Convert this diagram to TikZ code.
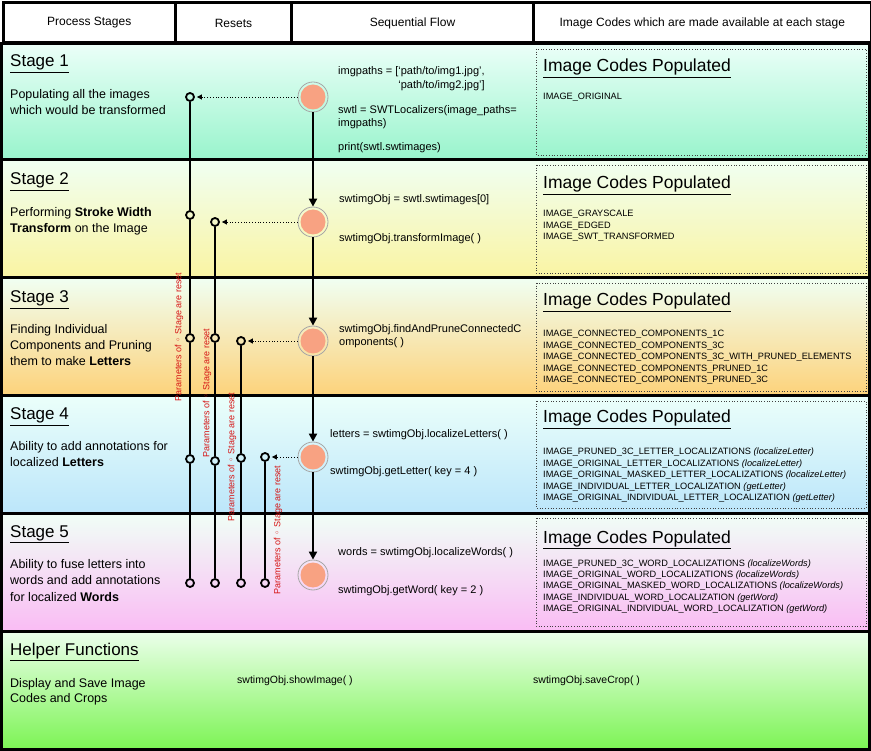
\documentclass[tikz,border=0pt]{standalone}
\usepackage{fontspec}
\setmainfont{Liberation Sans}
\newfontfamily\symfont{DejaVu Sans}
\usetikzlibrary{arrows.meta}
\definecolor{salmon}{RGB}{248,162,130}
\definecolor{resetred}{RGB}{214,20,20}
\definecolor{stAtop}{RGB}{235,255,248}
\definecolor{stAbot}{RGB}{152,244,204}
\definecolor{stBtop}{RGB}{240,255,242}
\definecolor{stBbot}{RGB}{250,244,162}
\definecolor{stCtop}{RGB}{240,255,242}
\definecolor{stCbot}{RGB}{253,210,122}
\definecolor{stDtop}{RGB}{235,255,250}
\definecolor{stDbot}{RGB}{188,230,250}
\definecolor{stEtop}{RGB}{240,255,246}
\definecolor{stEbot}{RGB}{250,188,244}
\definecolor{stFtop}{RGB}{236,255,236}
\definecolor{stFbot}{RGB}{124,244,84}
\newcommand{\fs}[2]{\fontsize{#1}{#2}\selectfont}

\begin{document}
\begin{tikzpicture}[x=1pt, y=-1pt, every node/.style={inner sep=0pt},
	headcell/.style={draw, line width=3pt, fill=white, minimum height=40pt, anchor=north west, font=\fs{12}{14}},
	band/.style={draw, line width=3pt},
	codebox/.style={draw=black!75, dotted, line width=0.7pt},
	stagehead/.style={anchor=base west, font=\fs{17}{20}},
	codeshead/.style={anchor=base west, font=\fs{17.5}{20}},
	desc/.style={anchor=base west, align=left, font=\fs{12.5}{15.5}},
	code/.style={anchor=base west, align=left, font=\fs{11}{13}},
	imgcodes/.style={anchor=base west, align=left, font=\fs{9.2}{11.4}},
	flowstep/.style={circle, draw=gray!70, line width=0.8pt, minimum size=30pt, path picture={\fill[salmon] (path picture bounding box.center) circle (12.5pt);}},
	jct/.style={circle, draw, line width=1.8pt, minimum size=8pt},
	flowarrow/.style={line width=2pt, -{Triangle[length=8pt,width=8pt]}},
	resetarrow/.style={dotted, line width=0.8pt, -{Triangle[length=5pt,width=5pt]}, shorten >=2pt},
	resetline/.style={line width=2pt},
	resetnote/.style={rotate=90, text=resetred, font=\fs{9}{11}}]
	\useasboundingbox (0,0) rectangle (871,751);
	\node[headcell, minimum width=172.5pt] (hStages) at (1.5,1.5) {Process Stages};
	\node[headcell, minimum width=116pt] (hResets) at (174,1.5) {Resets};
	\node[headcell, minimum width=242pt] (hFlow) at (290,1.5) {Sequential Flow};
	\node[headcell, minimum width=337.5pt] (hCodes) at (532,1.5) {Image Codes which are made available at each stage};
	\foreach \t/\b/\ct/\cb in {44/160/stAtop/stAbot, 160/278/stBtop/stBbot, 278/396/stCtop/stCbot, 396/513/stDtop/stDbot, 513/631/stEtop/stEbot, 631/749.5/stFtop/stFbot}
		\draw[band, top color=\ct, bottom color=\cb] (1.5,\t) rectangle (869.5,\b);
	\foreach \t/\b in {44/160, 160/278, 278/396, 396/513, 513/631}
		\draw[codebox] (536,{\t+5}) rectangle (866,{\b-5});

	\node[stagehead] (st1) at (10,67) {\underline{Stage 1}};
	\node[stagehead] (st2) at (10,185) {\underline{Stage 2}};
	\node[stagehead] (st3) at (10,303) {\underline{Stage 3}};
	\node[stagehead] (st4) at (10,420) {\underline{Stage 4}};
	\node[stagehead] (st5) at (10,537) {\underline{Stage 5}};
	\node[stagehead] (st6) at (10,655) {\underline{Helper Functions}};
	\node[desc] (d1) at (10,114.5) {Populating all the images\\which would be transformed};
	\node[desc, font=\fs{12.5}{16}] (d2) at (10,233) {Performing \textbf{Stroke Width}\\\textbf{Transform} on the Image};
	\node[desc, font=\fs{12.5}{16}] (d3) at (10,366) {Finding Individual\\Components and Pruning\\them to make \textbf{Letters}};
	\node[desc] (d4) at (10,466.5) {Ability to add annotations for\\localized \textbf{Letters}};
	\node[desc, font=\fs{12.5}{16.5}] (d5) at (10,601) {Ability to fuse letters into\\words and add annotations\\for localized \textbf{Words}};
	\node[desc] (d6) at (10,702.5) {Display and Save Image\\Codes and Crops};

	\foreach \i/\y in {1/97, 2/222, 3/341, 4/457, 5/575}
		\node[flowstep] (f\i) at (313,\y) {};
	\foreach \a/\b in {f1/f2, f2/f3, f3/f4, f4/f5}
		\draw[flowarrow] (\a) -- (\b);
	\foreach \n/\x/\y in {j11/190/97, j12/190/215, j13/190/338, j14/190/459, j15/190/583, j22/215/222, j23/215/338, j24/215/461, j25/215/583, j33/241/341, j34/241/458, j35/241/583, j44/265/457, j45/265/583}
		\node[jct] (\n) at (\x,\y) {};
	\foreach \a/\b in {j11/j12, j12/j13, j13/j14, j14/j15, j22/j23, j23/j24, j24/j25, j33/j34, j34/j35}
		\draw[resetline] (\a) -- (\b);
	\draw[resetline, line width=1.2pt] (j44) -- (j45);
	\foreach \a/\b in {f1/j11, f2/j22, f3/j33, f4/j44}
		\draw[resetarrow] (\a) -- (\b);
	\foreach \n/\x/\y in {p1/179/337, p2/207/393, p3/232/457, p4/278/530}
		\node[resetnote] (\n) at (\x,\y) {Parameters of {\symfont ◦} Stage are reset};

	\node[code, font=\fs{11}{14}] (c11) at (338,89) {imgpaths = [‘path/to/img1.jpg’,\\\phantom{imgpaths = [}‘path/to/img2.jpg’]};
	\node[code, font=\fs{11}{12.5}] (c12) at (338,126.5) {swtl = SWTLocalizers(image\_paths=\\imgpaths)};
	\node[code] (c13) at (338,151) {print(swtl.swtimages)};
	\node[code] (c21) at (339,203) {swtimgObj = swtl.swtimages[0]};
	\node[code] (c22) at (339,242) {swtimgObj.transformImage( )};
	\node[code, font=\fs{11}{12.5}] (c31) at (339,345.5) {swtimgObj.findAndPruneConnectedC\\omponents( )};
	\node[code] (c41) at (330,438) {letters = swtimgObj.localizeLetters( )};
	\node[code] (c42) at (330,475) {swtimgObj.getLetter( key = 4 )};
	\node[code] (c51) at (338,555) {words = swtimgObj.localizeWords( )};
	\node[code] (c52) at (338,593) {swtimgObj.getWord( key = 2 )};
	\node[code, font=\fs{10.5}{13}] (c61) at (237,683) {swtimgObj.showImage( )};
	\node[code, font=\fs{10.5}{13}] (c62) at (533,683) {swtimgObj.saveCrop( )};

	\node[codeshead] (ih1) at (543,72) {\underline{Image Codes Populated}};
	\node[codeshead] (ih2) at (543,189) {\underline{Image Codes Populated}};
	\node[codeshead] (ih3) at (543,306) {\underline{Image Codes Populated}};
	\node[codeshead] (ih4) at (543,423) {\underline{Image Codes Populated}};
	\node[codeshead] (ih5) at (543,543) {\underline{Image Codes Populated}};
	\node[imgcodes] (ic1) at (543,100) {IMAGE\_ORIGINAL};
	\node[imgcodes] (ic2) at (543,239.8) {IMAGE\_GRAYSCALE\\IMAGE\_EDGED\\IMAGE\_SWT\_TRANSFORMED};
	\node[imgcodes] (ic3) at (543,382.6) {IMAGE\_CONNECTED\_COMPONENTS\_1C\\IMAGE\_CONNECTED\_COMPONENTS\_3C\\IMAGE\_CONNECTED\_COMPONENTS\_3C\_WITH\_PRUNED\_ELEMENTS\\IMAGE\_CONNECTED\_COMPONENTS\_PRUNED\_1C\\IMAGE\_CONNECTED\_COMPONENTS\_PRUNED\_3C};
	\node[imgcodes] (ic4) at (543,500.6) {IMAGE\_PRUNED\_3C\_LETTER\_LOCALIZATIONS \textit{(localizeLetter)}\\IMAGE\_ORIGINAL\_LETTER\_LOCALIZATIONS \textit{(localizeLetter)}\\IMAGE\_ORIGINAL\_MASKED\_LETTER\_LOCALIZATIONS \textit{(localizeLetter)}\\IMAGE\_INDIVIDUAL\_LETTER\_LOCALIZATION \textit{(getLetter)}\\IMAGE\_ORIGINAL\_INDIVIDUAL\_LETTER\_LOCALIZATION \textit{(getLetter)}};
	\node[imgcodes] (ic5) at (543,611.6) {IMAGE\_PRUNED\_3C\_WORD\_LOCALIZATIONS \textit{(localizeWords)}\\IMAGE\_ORIGINAL\_WORD\_LOCALIZATIONS \textit{(localizeWords)}\\IMAGE\_ORIGINAL\_MASKED\_WORD\_LOCALIZATIONS \textit{(localizeWords)}\\IMAGE\_INDIVIDUAL\_WORD\_LOCALIZATION \textit{(getWord)}\\IMAGE\_ORIGINAL\_INDIVIDUAL\_WORD\_LOCALIZATION \textit{(getWord)}};
\end{tikzpicture}
\end{document}
